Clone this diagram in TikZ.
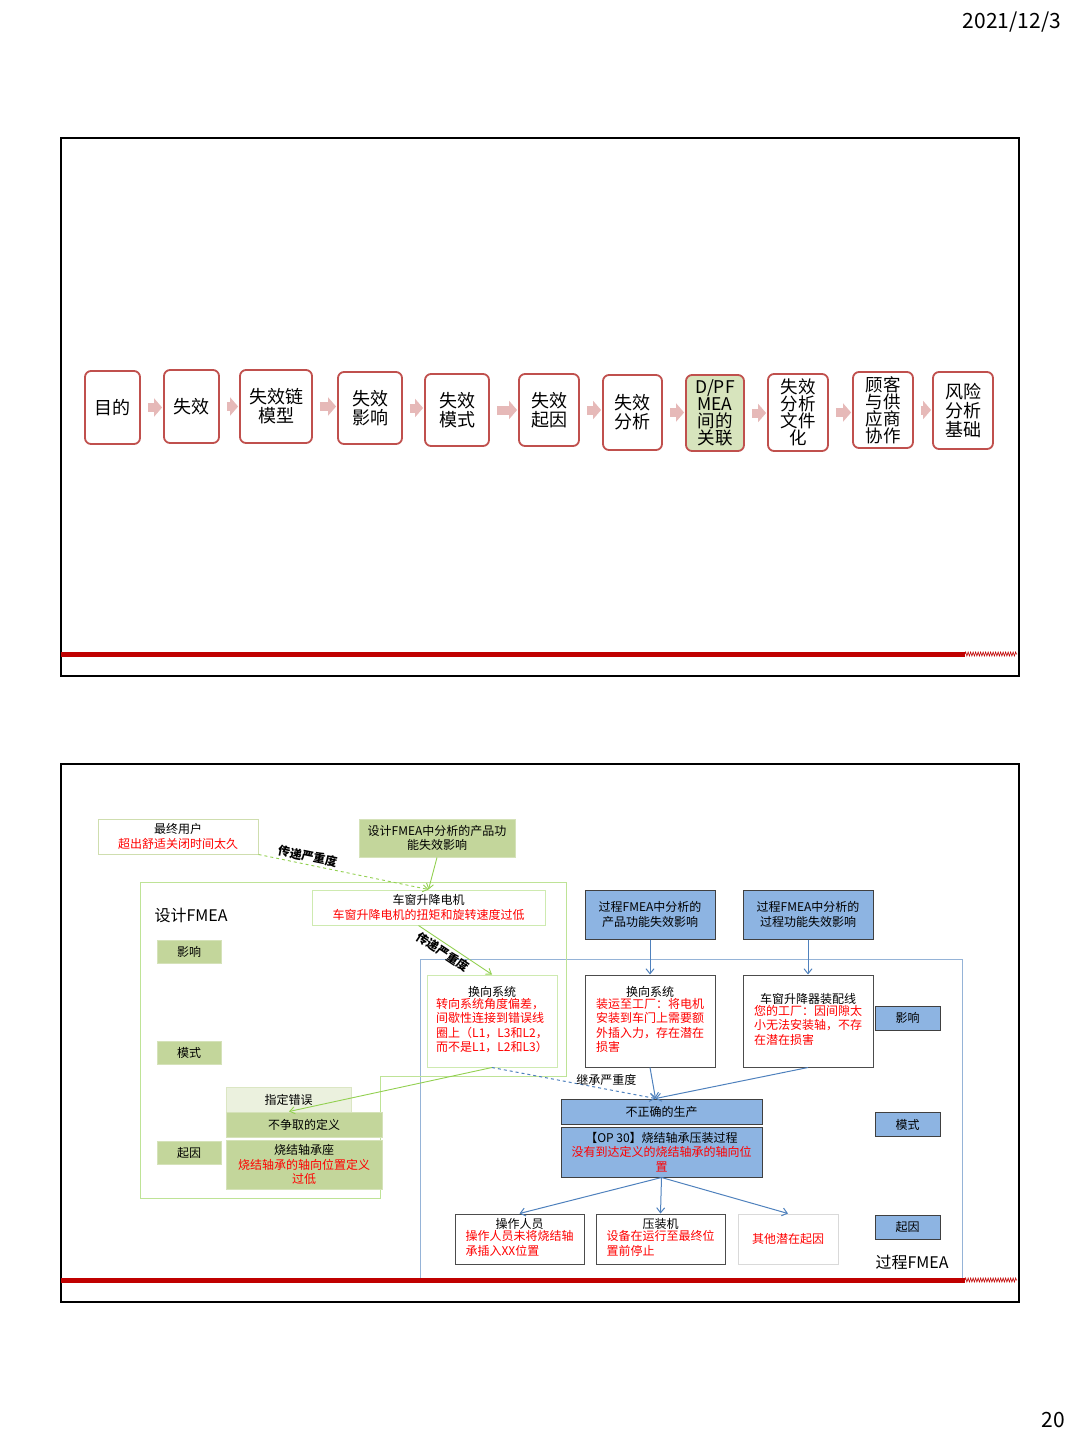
\documentclass[tikz,border=0pt]{standalone}
\usepackage{fontspec}
\setmainfont{Noto Sans CJK SC}
\usetikzlibrary{arrows.meta,decorations.pathmorphing}
\definecolor{chainred}{HTML}{C0504D}
\definecolor{chainpink}{HTML}{E6B9B8}
\definecolor{dgreen}{HTML}{D7E4BD}
\definecolor{mgreen}{HTML}{C3D69B}
\definecolor{lgreen}{HTML}{EBF1DE}
\definecolor{lineg}{HTML}{92D050}
\definecolor{pblue}{HTML}{8DB4E2}
\definecolor{regblue}{HTML}{95B3D7}
\definecolor{arrblue}{HTML}{4F81BD}
\definecolor{barred}{HTML}{C00000}
\newcommand{\redt}[1]{\textcolor{red}{#1}}
\tikzset{
  chainbox/.style={draw=chainred, line width=1.8pt, rounded corners=6pt, fill=white,
    align=center, inner sep=0pt, font=\fontsize{18}{19}\selectfont},
  tallbox/.style={chainbox, font=\fontsize{17.5}{17}\selectfont},
  chainarrow/.style={draw=chainpink, line width=9pt, -{Triangle[length=8pt,width=18pt]},
    shorten <=7pt, shorten >=1pt},
  small/.style={align=center, inner sep=0pt, font=\fontsize{12}{14.3}\selectfont},
  wgbox/.style={small, draw=lineg!45, line width=1pt, fill=white},
  ggbox/.style={small, draw=mgreen!70, line width=1pt, fill=mgreen},
  lgbox/.style={small, draw=mgreen!60, line width=1pt, fill=lgreen},
  bbox/.style={small, draw=black!75, line width=1pt, fill=pblue},
  wbox/.style={small, draw=black!70, line width=1pt, fill=white},
  sevlabel/.style={font=\fontsize{12}{14}\selectfont\bfseries, inner sep=2pt},
  garrow/.style={draw=lineg, line width=0.9pt, -{Straight Barb[length=5pt,width=7pt]}},
  barrow/.style={draw=arrblue, line width=1pt, -{Straight Barb[length=5pt,width=8pt]}},
}
\begin{document}
\begin{tikzpicture}[x=1pt,y=-1pt]
\useasboundingbox (0,0) rectangle (1080,1440);
\node[font=\fontsize{21}{24}\selectfont] (date) at (1012,22) {2021/12/3};
\node[font=\fontsize{21}{24}\selectfont] (page) at (1053,1420) {20};

% upper slide
\draw[line width=2pt] (61,138) rectangle (1019,676);
\fill[barred] (61,651.5) rectangle (965,656.5);
\draw[barred, line width=0.6pt, decorate, decoration={zigzag, amplitude=2pt, segment length=2.5pt}] (965,654) -- (1017,654);

\node[chainbox, minimum width=55pt, minimum height=73pt] (s1) at (112.5,407.5) {目的};
\node[chainbox, minimum width=55pt, minimum height=73pt] (s2) at (191.5,406.5) {失效};
\node[chainbox, minimum width=72pt, minimum height=73pt] (s3) at (276,406.5) {失效链\\模型};
\node[chainbox, minimum width=64pt, minimum height=72pt] (s4) at (370,408) {失效\\影响};
\node[chainbox, minimum width=64pt, minimum height=72pt] (s5) at (457,410) {失效\\模式};
\node[chainbox, minimum width=60pt, minimum height=72pt] (s6) at (549,410) {失效\\起因};
\node[chainbox, minimum width=59pt, minimum height=75pt] (s7) at (632.5,412.5) {失效\\分析};
\node[tallbox, fill=dgreen, minimum width=58pt, minimum height=76pt] (s8) at (715,413) {D/PF\\MEA\\间的\\关联};
\node[tallbox, minimum width=60pt, minimum height=77pt] (s9) at (798,412.5) {失效\\分析\\文件\\化};
\node[tallbox, minimum width=60pt, minimum height=76pt] (s10) at (883,410) {顾客\\与供\\应商\\协作};
\node[chainbox, minimum width=60pt, minimum height=77pt] (s11) at (963,410.5) {风险\\分析\\基础};
\foreach \a/\b in {s1/s2,s2/s3,s3/s4,s4/s5,s5/s6,s6/s7,s7/s8,s8/s9,s9/s10,s10/s11}
  \draw[chainarrow] (\a.east) -- (\a.east -| \b.west);

% lower slide
\draw[line width=2pt] (61,764) rectangle (1019,1302);
\draw[regblue, line width=1pt] (420,959) rectangle (962,1278);
\draw[lineg!60, line width=1pt] (140,882) -- (566,882) -- (566,1076) -- (380,1076) -- (380,1198) -- (140,1198) -- cycle;
\fill[barred] (61,1277.5) rectangle (965,1282.5);
\draw[barred, line width=0.6pt, decorate, decoration={zigzag, amplitude=2pt, segment length=2.5pt}] (965,1280) -- (1017,1280);

\node[font=\fontsize{16}{18}\selectfont] (dlabel) at (191,915) {设计FMEA};
\node[font=\fontsize{16}{18}\selectfont] (plabel) at (912,1262) {过程FMEA};

\node[wgbox, draw=mgreen!80, minimum width=160pt, minimum height=35pt] (user) at (178,836.5) {最终用户\\\redt{超出舒适关闭时间太久}};
\node[ggbox, minimum width=156pt, minimum height=38pt] (dfe) at (437,838) {设计FMEA中分析的产品功\\能失效影响};
\node[wgbox, minimum width=233pt, minimum height=35pt] (motor) at (428.5,907.5) {车窗升降电机\\\redt{车窗升降电机的扭矩和旋转速度过低}};

\node[ggbox, minimum width=64pt, minimum height=23pt] (deff) at (189,951.5) {影响};
\node[ggbox, minimum width=64pt, minimum height=23pt] (dmode) at (189,1052.5) {模式};
\node[ggbox, minimum width=64pt, minimum height=23pt] (dcause) at (189,1152.5) {起因};
\node[lgbox, minimum width=125pt, minimum height=25pt] (wrong) at (288.5,1099.5) {指定错误};
\node[ggbox, minimum width=156pt, minimum height=25pt] (nodef) at (304,1124.5) {不争取的定义};
\node[ggbox, minimum width=156pt, minimum height=49pt] (seat) at (304,1164.5) {烧结轴承座\\\redt{烧结轴承的轴向位置定义}\\\redt{过低}};

\node[wgbox, minimum width=130pt, minimum height=92pt] (steer) at (492,1021) {换向系统\\\begin{tabular}{@{}l@{}}\redt{转向系统角度偏差，}\\\redt{间歇性连接到错误线}\\\redt{圈上（L1，L3和L2，}\\\redt{而不是L1，L2和L3）}\end{tabular}};
\node[wbox, minimum width=130pt, minimum height=92pt] (steerp) at (650,1021) {换向系统\\\begin{tabular}{@{}l@{}}\redt{装运至工厂：将电机}\\\redt{安装到车门上需要额}\\\redt{外插入力，存在潜在}\\\redt{损害}\end{tabular}};
\node[wbox, minimum width=130pt, minimum height=92pt] (line) at (808,1021) {车窗升降器装配线\\\begin{tabular}{@{}l@{}}\redt{您的工厂：因间隙太}\\\redt{小无法安装轴，不存}\\\redt{在潜在损害}\end{tabular}};
\node[bbox, minimum width=130pt, minimum height=49pt] (pfe) at (650,914.5) {过程FMEA中分析的\\产品功能失效影响};
\node[bbox, minimum width=130pt, minimum height=49pt] (pfq) at (808,914.5) {过程FMEA中分析的\\过程功能失效影响};

\node[bbox, minimum width=65pt, minimum height=24pt] (peff) at (907.5,1018) {影响};
\node[bbox, minimum width=65pt, minimum height=24pt] (pmode) at (907.5,1124.5) {模式};
\node[bbox, minimum width=65pt, minimum height=24pt] (pcause) at (907.5,1227) {起因};

\node[bbox, minimum width=201pt, minimum height=25pt] (badprod) at (661.5,1111.5) {不正确的生产};
\node[bbox, minimum width=201pt, minimum height=50pt] (op30) at (661.5,1152) {【OP 30】烧结轴承压装过程\\\redt{没有到达定义的烧结轴承的轴向位}\\\redt{置}};

\node[wbox, minimum width=129pt, minimum height=50pt] (worker) at (519.5,1239) {操作人员\\\begin{tabular}{@{}l@{}}\redt{操作人员未将烧结轴}\\\redt{承插入XX位置}\end{tabular}};
\node[wbox, minimum width=129pt, minimum height=50pt] (press) at (660.5,1239) {压装机\\\begin{tabular}{@{}l@{}}\redt{设备在运行至最终位}\\\redt{置前停止}\end{tabular}};
\node[wbox, draw=black!15, minimum width=100pt, minimum height=50pt] (other) at (788,1239) {\redt{其他潜在起因}};

% connectors
\draw[garrow, dashed] (user.south east) -- (motor.north) node[sevlabel, sloped, above, pos=0.28] {传递严重度};
\draw[garrow] (dfe.south) -- (motor.north);
\draw[garrow] ([xshift=-10pt]motor.south) -- (steer.north) node[sevlabel, sloped, below, pos=0.4] {传递严重度};
\draw[garrow] (steer.south) -- ([xshift=-15pt]nodef.north);
\draw[barrow, dashed] (steer.south) -- ([xshift=-6pt]badprod.north) node[font=\fontsize{12}{14}\selectfont, above, pos=0.7] {继承严重度};
\draw[barrow] (steerp.south) -- ([xshift=-6pt]badprod.north);
\draw[barrow] (line.south) -- ([xshift=-6pt]badprod.north);
\draw[barrow] (pfe.south) -- (steerp.north);
\draw[barrow] (pfq.south) -- (line.north);
\draw[barrow] (op30.south) -- (worker.north);
\draw[barrow] (op30.south) -- (press.north);
\draw[barrow] (op30.south) -- (other.north);
\end{tikzpicture}
\end{document}
